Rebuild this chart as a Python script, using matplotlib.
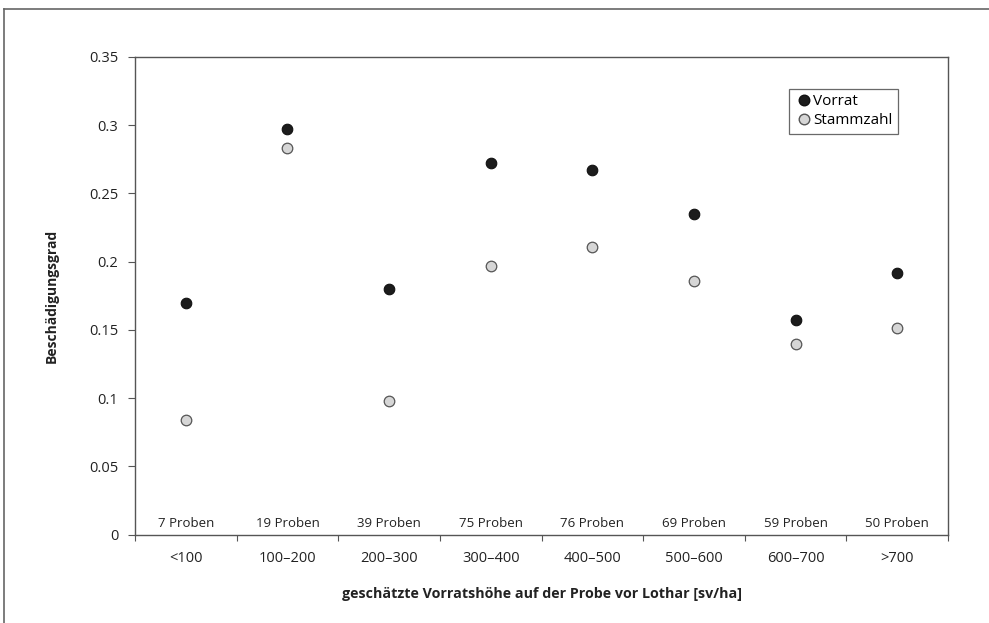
import matplotlib
matplotlib.use("Agg")
import matplotlib.pyplot as plt
from matplotlib.lines import Line2D
import numpy as np

plt.rcParams["font.family"] = ["Open Sans", "DejaVu Sans"]

# ── Data ─────────────────────────────────────────────────────────────────────
categories = ["<100", "100–200", "200–300", "300–400",
              "400–500", "500–600", "600–700", ">700"]
proben     = [7, 19, 39, 75, 76, 69, 59, 50]
vorrat     = [0.170, 0.297, 0.180, 0.272, 0.267, 0.235, 0.157, 0.192]
stammzahl  = [0.084, 0.283, 0.098, 0.197, 0.211, 0.186, 0.140, 0.151]
y_ticks    = [0, 0.05, 0.1, 0.15, 0.2, 0.25, 0.3, 0.35]

W, H = 989, 623
fig = plt.figure(figsize=(W / 100, H / 100), dpi=100)
ax = fig.add_axes([135 / W, 1 - 534.5 / H, (948 - 135) / W, (534.5 - 57) / H])

x = np.arange(len(categories))
ax.plot(x, vorrat, ls="none", marker="o", ms=7.6, mfc="#1c1c1c", mec="#111111",
        mew=0.8, label="Vorrat", zorder=3)
ax.plot(x, stammzahl, ls="none", marker="o", ms=7.6, mfc="#d6d6d6", mec="#555555",
        mew=0.9, label="Stammzahl", zorder=3)

ax.set_xlim(-0.5, len(categories) - 0.5)
ax.set_ylim(0, 0.35)
ax.set_yticks(y_ticks)
ax.set_yticklabels([f"{v:g}" for v in y_ticks], fontsize=10.5, color="#222222")

# category labels centred, tick marks at the boundaries
ax.set_xticks(x)
ax.set_xticklabels(categories, fontsize=10.5, color="#222222")
ax.tick_params(axis="x", length=0, pad=12)
ax.set_xticks(np.arange(len(categories) + 1) - 0.5, minor=True)
ax.tick_params(axis="x", which="minor", length=4, width=0.8, color="#555555")
ax.tick_params(axis="y", length=5, width=0.8, color="#555555", pad=7)

for s in ax.spines.values():
    s.set_color("#555555")
    s.set_linewidth(1.0)

for xi, n in zip(x, proben):
    ax.text(xi, 0.0035, f"{n} Proben", ha="center", va="bottom",
            fontsize=9.5, color="#222222")

ax.set_ylabel("Beschädigungsgrad", fontsize=10, fontweight="bold",
              color="#222222", labelpad=22)
ax.set_xlabel("geschätzte Vorratshöhe auf der Probe vor Lothar [sv/ha]",
              fontsize=10.3, fontweight="bold", color="#222222", labelpad=15)

handles = [
    Line2D([], [], ls="none", marker="o", ms=7.6, mfc="#1c1c1c", mec="#111111"),
    Line2D([], [], ls="none", marker="o", ms=7.6, mfc="#d6d6d6", mec="#555555"),
]
leg = ax.legend(handles, ["Vorrat", "Stammzahl"], loc="upper left",
                bbox_to_anchor=((789 - 135) / (948 - 135), 1 - (89 - 57) / (534.5 - 57)),
                frameon=True, fancybox=False, fontsize=11, handletextpad=0.05,
                handlelength=1.2, borderpad=0.35, labelspacing=0.25,
                borderaxespad=0)
leg.get_frame().set_edgecolor("#444444")
leg.get_frame().set_linewidth(0.9)

# outer frame of the figure (open at right and bottom)
fig.add_artist(Line2D([4 / W, 4 / W], [0, 1 - 9 / H], transform=fig.transFigure,
                      color="#666666", lw=1.2))
fig.add_artist(Line2D([4 / W, 1], [1 - 9 / H, 1 - 9 / H], transform=fig.transFigure,
                      color="#666666", lw=1.2))

fig.savefig("out.png", dpi=100)
